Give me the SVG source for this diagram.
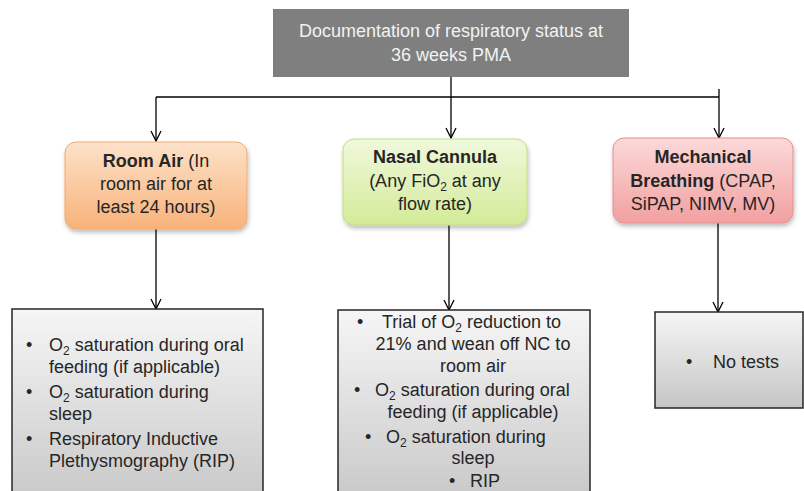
<svg xmlns="http://www.w3.org/2000/svg" width="804" height="491" viewBox="0 0 804 491">
<defs>
<style>
text{font-family:"Liberation Sans",Arial,sans-serif;font-size:18px;fill:#262626}
.title{fill:#f2f2f2;font-size:18px}
.b{font-weight:bold}
.c{text-anchor:middle}
.conn line{stroke:#000;stroke-width:1.3;fill:none}
.list{stroke:#262626;stroke-width:1.5}
</style>
<linearGradient id="gOr" x1="0" y1="0" x2="0" y2="1"><stop offset="0" stop-color="#fde2c9"/><stop offset="1" stop-color="#f8b27a"/></linearGradient>
<linearGradient id="gGr" x1="0" y1="0" x2="0" y2="1"><stop offset="0" stop-color="#f0f8dc"/><stop offset="1" stop-color="#d3eb98"/></linearGradient>
<linearGradient id="gRd" x1="0" y1="0" x2="0" y2="1"><stop offset="0" stop-color="#fcd9d9"/><stop offset="1" stop-color="#f2a0a0"/></linearGradient>
<linearGradient id="gGy" x1="0" y1="0" x2="0" y2="1"><stop offset="0" stop-color="#f6f6f6"/><stop offset="1" stop-color="#c6c6c6"/></linearGradient>
<filter id="sh" x="-10%" y="-10%" width="130%" height="140%"><feDropShadow dx="1" dy="3" stdDeviation="2" flood-color="#000" flood-opacity="0.25"/></filter>
<marker id="arr" viewBox="0 0 12 12" refX="11" refY="6" markerWidth="12" markerHeight="12" markerUnits="userSpaceOnUse" orient="auto"><path d="M1,1 L11,6 L1,11" fill="none" stroke="#000" stroke-width="1.3"/></marker>
</defs>
<rect width="804" height="491" fill="#fff"/>

<g class="conn" id="connectors">
<line x1="451" y1="77" x2="451" y2="138" marker-end="url(#arr)"/>
<line x1="156" y1="97" x2="719" y2="97"/>
<line x1="156" y1="97" x2="156" y2="141" marker-end="url(#arr)"/>
<line x1="719" y1="89" x2="719" y2="138" marker-end="url(#arr)"/>
<line x1="156" y1="229" x2="156" y2="309" marker-end="url(#arr)"/>
<line x1="449" y1="225" x2="449" y2="310" marker-end="url(#arr)"/>
<line x1="718" y1="223" x2="718" y2="312" marker-end="url(#arr)"/>
</g>

<g id="top">
<rect x="273" y="9" width="356" height="68" fill="#7f7f7f"/>
<text class="title c" x="451" y="37">Documentation of respiratory status at</text>
<text class="title c" x="451" y="61">36 weeks PMA</text>
</g>

<g id="roomair">
<rect x="65" y="142" width="182" height="87" rx="11" fill="url(#gOr)" stroke="#f5a86a" stroke-width="1" filter="url(#sh)"/>
<text class="c" x="156" y="167"><tspan class="b">Room Air</tspan> (In</text>
<text class="c" x="156" y="190">room air for at</text>
<text class="c" x="156" y="213">least 24 hours)</text>
</g>

<g id="nasal">
<rect x="343" y="139" width="184" height="86" rx="11" fill="url(#gGr)" stroke="#c2dd80" stroke-width="1" filter="url(#sh)"/>
<text class="c b" x="435" y="163">Nasal Cannula</text>
<text class="c" x="435" y="187">(Any FiO<tspan font-size="12" dy="4">2</tspan><tspan dy="-4"> at any</tspan></text>
<text class="c" x="435" y="210">flow rate)</text>
</g>

<g id="mech">
<rect x="613" y="138" width="180" height="85" rx="11" fill="url(#gRd)" stroke="#e48e8e" stroke-width="1" filter="url(#sh)"/>
<text class="c b" x="703" y="163">Mechanical</text>
<text class="c" x="703" y="187"><tspan class="b">Breathing</tspan> (CPAP,</text>
<text class="c" x="703" y="210">SiPAP, NIMV, MV)</text>
</g>

<g id="tests-roomair">
<rect class="list" x="12" y="309" width="251" height="200" fill="url(#gGy)"/>
<text x="26" y="351">•</text>
<text x="49" y="351">O<tspan font-size="12" dy="4">2</tspan><tspan dy="-4"> saturation during oral</tspan></text>
<text x="49" y="373">feeding (if applicable)</text>
<text x="26" y="398">•</text>
<text x="49" y="398">O<tspan font-size="12" dy="4">2</tspan><tspan dy="-4"> saturation during</tspan></text>
<text x="49" y="420">sleep</text>
<text x="26" y="445">•</text>
<text x="49" y="445">Respiratory Inductive</text>
<text x="49" y="467">Plethysmography (RIP)</text>
</g>

<g id="tests-nasal">
<rect class="list" x="338" y="310" width="252" height="200" fill="url(#gGy)"/>
<text x="357" y="328">•</text>
<text x="382" y="328">Trial of O<tspan font-size="12" dy="4">2</tspan><tspan dy="-4"> reduction to</tspan></text>
<text class="c" x="473" y="350">21% and wean off NC to</text>
<text class="c" x="473" y="372">room air</text>
<text x="354" y="396">•</text>
<text x="375" y="396">O<tspan font-size="12" dy="4">2</tspan><tspan dy="-4"> saturation during oral</tspan></text>
<text class="c" x="473" y="418">feeding (if applicable)</text>
<text x="365" y="443">•</text>
<text x="386" y="443">O<tspan font-size="12" dy="4">2</tspan><tspan dy="-4"> saturation during</tspan></text>
<text class="c" x="473" y="464">sleep</text>
<text x="449" y="487">•</text>
<text x="470" y="487">RIP</text>
</g>

<g id="tests-mech">
<rect class="list" x="655" y="312" width="148" height="96" fill="url(#gGy)"/>
<text x="686" y="368">•</text>
<text x="713" y="368">No tests</text>
</g>
</svg>
